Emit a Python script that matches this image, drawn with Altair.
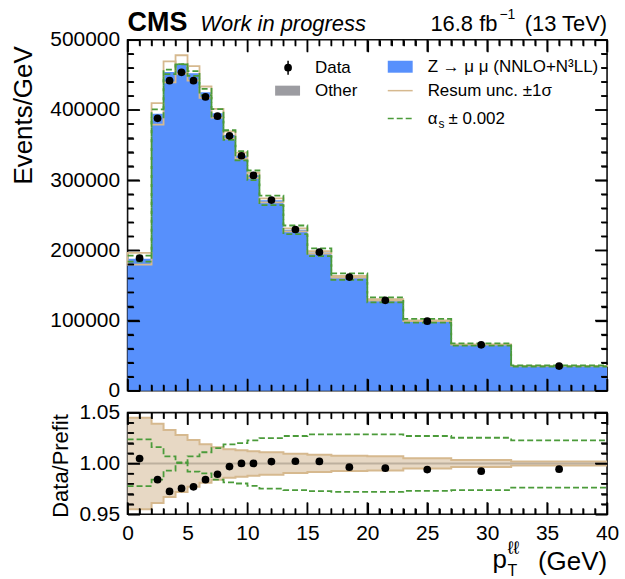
import altair as alt
import pandas as pd

FONT = "Liberation Sans"

# Binning in pT (GeV) and per-bin contents (events / GeV)
edges = [0, 2, 3, 4, 5, 6, 7, 8, 9, 10, 11, 13, 15, 17, 20, 23, 27, 32, 40]
data_vals = [188900, 388200, 441800, 453600, 441800, 418600, 391100, 363200, 334800,
             306800, 271700, 229700, 197400, 161900, 128800, 99000, 65300, 35100]
pred_vals = [188000, 394500, 454300, 465000, 452200, 425400, 395300, 364300, 334800,
             306800, 271200, 229200, 197000, 162500, 129400, 99600, 65800, 35300]
# Relative uncertainties
resum_unc = [0.045, 0.039, 0.033, 0.028, 0.023, 0.019, 0.016, 0.014, 0.013,
             0.012, 0.011, 0.0095, 0.0085, 0.0075, 0.007, 0.005, 0.0035, 0.002]
alphas_up = [0.0237, 0.016, 0.007, 0.001, -0.008, -0.0097, -0.016, -0.0187, -0.0197,
             -0.022, -0.0247, -0.0263, -0.0273, -0.028, -0.028, -0.027, -0.0263, -0.0237]
alphas_dn = [-0.0223, -0.016, -0.007, 0.0003, 0.007, 0.011, 0.015, 0.0187, 0.020,
             0.0227, 0.025, 0.027, 0.0287, 0.0287, 0.0287, 0.027, 0.0253, 0.0227]

x_major = [0, 5, 10, 15, 20, 25, 30, 35, 40]
x_minor = [v for v in range(0, 41) if v % 5]
y_major = [0, 100000, 200000, 300000, 400000, 500000]
y_minor = [v for v in range(0, 500001, 20000) if v % 100000]
r_major = [0.95, 1.0, 1.05]
r_minor = [0.96, 0.97, 0.98, 0.99, 1.01, 1.02, 1.03, 1.04]

BLUE = "#5790fc"
GRAY = "#9c9ca1"
TAN = "#d6b98f"
TAN_FILL = "#e7d8c4"
GREEN = "#4b9b3a"

W, H, HR = 481, 352, 102
MAJ, MIN = 12, 6
TICK_W = 1.5

bins = pd.DataFrame({
    "lo": edges[:-1], "hi": edges[1:],
    "center": [(a + b) / 2 for a, b in zip(edges[:-1], edges[1:])],
    "data": data_vals, "pred": pred_vals,
    "ratio": [d / p for d, p in zip(data_vals, pred_vals)],
    "band_lo": [p * (1 - u) for p, u in zip(pred_vals, resum_unc)],
    "band_hi": [p * (1 + u) for p, u in zip(pred_vals, resum_unc)],
})


def ext(vals):
    return list(vals) + [vals[-1]]


steps = pd.DataFrame({
    "x": edges,
    "pred": ext(pred_vals),
    "as_up": ext([p * (1 + a) for p, a in zip(pred_vals, alphas_up)]),
    "as_dn": ext([p * (1 + a) for p, a in zip(pred_vals, alphas_dn)]),
    "r_lo": ext([1 - u for u in resum_unc]),
    "r_hi": ext([1 + u for u in resum_unc]),
    "r_up": ext([1 + a for a in alphas_up]),
    "r_dn": ext([1 + a for a in alphas_dn]),
})

xs = alt.Scale(domain=[0, 40], nice=False, zero=False)
ys = alt.Scale(domain=[0, 500000], nice=False)
rs = alt.Scale(domain=[0.95, 1.05], nice=False, zero=False)

one = pd.DataFrame({"k": [0]})

LABEL = dict(labelFontSize=21, labelPadding=8, labelColor="black", labelFont=FONT)


def ax(orient, vals, length, labels=False, **kw):
    """Axis whose ticks point into the frame (axis pulled inward by the tick length)."""
    opts = dict(orient=orient, values=vals, offset=-length, tickSize=length,
                tickWidth=TICK_W, tickColor="#000000", tickOpacity=1, ticks=True,
                domain=False, grid=False, labels=labels, zindex=1)
    if "title" not in kw:
        opts["title"] = None
    opts.update(kw)
    return alt.Axis(**opts)


def tick_rules(yscale, xmaj, xmin, ymaj, ymin, width, height):
    """Inward ticks along all four frame sides as rule segments."""
    layers = []
    for vals, length in ((xmaj, MAJ), (xmin, MIN)):
        df = pd.DataFrame({"tick_x": vals})
        for y0, y1 in ((0, length), (height - length, height)):
            layers.append(alt.Chart(df).mark_rule(color="#000000", strokeWidth=TICK_W).encode(
                x=alt.X("tick_x:Q", scale=xs, axis=None),
                y=alt.value(y0), y2=alt.value(y1)))
    for vals, length in ((ymaj, MAJ), (ymin, MIN)):
        df = pd.DataFrame({"tick_y": vals})
        for x0, x1 in ((0, length), (width - length, width)):
            layers.append(alt.Chart(df).mark_rule(color="#000000", strokeWidth=TICK_W).encode(
                y=alt.Y("tick_y:Q", scale=yscale, axis=None),
                x=alt.value(x0), x2=alt.value(x1)))
    return layers


def text(txt, x, y, size=17, align="left", baseline="middle", **kw):
    return alt.Chart(one).mark_text(
        text=txt, align=align, baseline=baseline, fontSize=size, font=FONT,
        color="black", **kw
    ).encode(x=alt.value(x), y=alt.value(y))


# ---------------- upper panel ----------------
z_area = alt.Chart(steps).mark_area(interpolate="step-after", color=BLUE, opacity=1).encode(
    x=alt.X("x:Q", scale=xs, axis=ax("bottom", x_major, MAJ)),
    y=alt.Y("pred:Q", scale=ys,
            axis=ax("left", y_major, MAJ, labels=True, format="d", **LABEL,
                    title="Events/GeV", titleFont=FONT, titleFontSize=26,
                    titleFontWeight="normal", titleAngle=270, titleAlign="right",
                    titleBaseline="middle", titleX=-104 - MAJ, titleY=6,
                    titleColor="black")),
)

resum_boxes = alt.Chart(bins).mark_rect(fillOpacity=0, stroke=TAN, strokeWidth=1.8).encode(
    x=alt.X("lo:Q", scale=xs, axis=ax("top", x_major, MAJ)), x2="hi:Q",
    y=alt.Y("band_lo:Q", scale=ys, axis=ax("right", y_major, MAJ)), y2="band_hi:Q",
)

as_up_line = alt.Chart(steps).mark_line(interpolate="step-after", color=GREEN, strokeWidth=1.8,
                                        strokeDash=[6, 3]).encode(
    x=alt.X("x:Q", scale=xs, axis=ax("bottom", x_minor, MIN)),
    y=alt.Y("as_up:Q", scale=ys, axis=ax("left", y_minor, MIN)))
as_dn_line = alt.Chart(steps).mark_line(interpolate="step-after", color=GREEN, strokeWidth=1.8,
                                        strokeDash=[6, 3]).encode(
    x=alt.X("x:Q", scale=xs, axis=ax("top", x_minor, MIN)),
    y=alt.Y("as_dn:Q", scale=ys, axis=ax("right", y_minor, MIN)))

data_pts = alt.Chart(bins).mark_circle(color="black", size=60, opacity=1).encode(
    x=alt.X("center:Q", scale=xs, axis=None), y=alt.Y("data:Q", scale=ys, axis=None))

legend = [
    alt.Chart(one).mark_rule(color="black", strokeWidth=1.5).encode(
        x=alt.value(161), y=alt.value(21), y2=alt.value(35)),
    alt.Chart(one).mark_circle(color="black", size=60, opacity=1).encode(
        x=alt.value(161), y=alt.value(28)),
    text("Data", 188, 28),
    alt.Chart(one).mark_rect(color=GRAY).encode(
        x=alt.value(148), x2=alt.value(173), y=alt.value(46), y2=alt.value(56)),
    text("Other", 188, 51),
    alt.Chart(one).mark_rect(color=BLUE).encode(
        x=alt.value(261), x2=alt.value(286), y=alt.value(21), y2=alt.value(33)),
    text("Z \u2192 \u03bc \u03bc (NNLO+N\u00b3LL)", 301, 27),
    alt.Chart(one).mark_rule(color=TAN, strokeWidth=1.5).encode(
        x=alt.value(261), x2=alt.value(286), y=alt.value(51)),
    text("Resum unc. \u00b11\u03c3", 301, 51),
    alt.Chart(one).mark_rule(color=GREEN, strokeWidth=1.5, strokeDash=[6, 3]).encode(
        x=alt.value(261), x2=alt.value(286), y=alt.value(79)),
    text("\u03b1", 301, 79),
    text("s", 312, 84, size=12),
    text("\u00b1 0.002", 322, 79),
]

header = [
    text("CMS", 0, -9, size=27, baseline="alphabetic", fontWeight="bold"),
    text("Work in progress", 73, -9, size=22, baseline="alphabetic", fontStyle="italic"),
    text("16.8 fb", 371, -9, size=22, align="right", baseline="alphabetic"),
    text("\u22121", 373, -21, size=14, baseline="alphabetic"),
    text("(13 TeV)", 481, -9, size=22, align="right", baseline="alphabetic"),
]

main = alt.layer(
    z_area, resum_boxes, as_up_line, as_dn_line, data_pts,
    *tick_rules(ys, x_major, x_minor, y_major, y_minor, W, H),
    *legend, *header,
).resolve_axis(x="independent", y="independent").properties(width=W, height=H)

# ---------------- ratio panel ----------------
band = alt.Chart(steps).mark_area(interpolate="step-after", color=TAN_FILL, opacity=1).encode(
    x=alt.X("x:Q", scale=xs,
            axis=ax("bottom", x_major, MAJ, labels=True, labelFlush=False, **LABEL)),
    y=alt.Y("r_lo:Q", scale=rs,
            axis=ax("left", r_major, MAJ, labels=True, format=".2f", **LABEL,
                    title="Data/Prefit", titleFont=FONT, titleFontSize=22,
                    titleFontWeight="normal", titleAngle=270, titleAlign="center",
                    titleBaseline="middle", titleX=-67 - MAJ, titleY=53,
                    titleColor="black")),
    y2="r_hi:Q",
)
band_hi = alt.Chart(steps).mark_line(interpolate="step-after", color=TAN, strokeWidth=2).encode(
    x=alt.X("x:Q", scale=xs, axis=ax("top", x_major, MAJ)),
    y=alt.Y("r_hi:Q", scale=rs, axis=ax("right", r_major, MAJ)))
band_lo = alt.Chart(steps).mark_line(interpolate="step-after", color=TAN, strokeWidth=2).encode(
    x=alt.X("x:Q", scale=xs, axis=ax("bottom", x_minor, MIN)),
    y=alt.Y("r_lo:Q", scale=rs, axis=ax("left", r_minor, MIN)))
unity = alt.Chart(one).mark_rule(color="#bdb09e", strokeWidth=2).encode(
    y=alt.datum(1.0, scale=rs, axis=None))
r_up_line = alt.Chart(steps).mark_line(interpolate="step-after", color=GREEN, strokeWidth=1.8,
                                       strokeDash=[6, 3]).encode(
    x=alt.X("x:Q", scale=xs, axis=ax("top", x_minor, MIN)),
    y=alt.Y("r_up:Q", scale=rs, axis=ax("right", r_minor, MIN)))
r_dn_line = alt.Chart(steps).mark_line(interpolate="step-after", color=GREEN, strokeWidth=1.8,
                                       strokeDash=[6, 3]).encode(
    x=alt.X("x:Q", scale=xs, axis=None), y=alt.Y("r_dn:Q", scale=rs, axis=None))
ratio_pts = alt.Chart(bins).mark_circle(color="black", size=60, opacity=1).encode(
    x=alt.X("center:Q", scale=xs, axis=None), y=alt.Y("ratio:Q", scale=rs, axis=None))

xtitle = [
    text("p", 366, HR + 54, size=26, baseline="alphabetic"),
    text("\u2113\u2113", 381, HR + 40, size=18, baseline="alphabetic"),
    text("T", 381, HR + 62, size=16, baseline="alphabetic"),
    text("(GeV)", 481, HR + 56, size=26, align="right", baseline="alphabetic"),
]

ratio = alt.layer(
    band, band_hi, band_lo, unity, r_up_line, r_dn_line, ratio_pts,
    *tick_rules(rs, x_major, x_minor, r_major, r_minor, W, HR),
    *xtitle,
).resolve_axis(x="independent", y="independent").properties(width=W, height=HR)

chart = alt.vconcat(main, ratio, spacing=22, bounds="flush").properties(
    padding={"left": 10, "top": 6, "right": 5, "bottom": 5}
).configure_view(stroke="#111111", strokeWidth=1.6)

chart.save("out.html", embed_options={"renderer": "svg", "actions": False})
